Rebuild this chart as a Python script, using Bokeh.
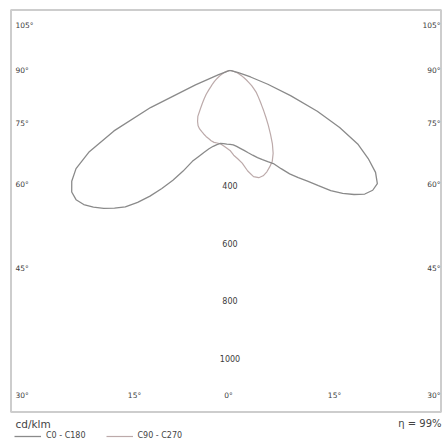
import numpy as np
from bokeh.plotting import figure
from bokeh.models import Range1d, Legend, LegendItem
from bokeh.core.properties import value
from bokeh.embed import file_html
from bokeh.resources import INLINE

# ---------------- data (cd/klm, angle from nadir in degrees) ----------------
angles = [0, 2.5, 5, 7.5, 10, 12.5, 15, 17.5, 20, 22.5, 25, 27.5, 30, 32.5, 35,
          37.5, 40, 42.5, 45, 47.5, 50, 52.5, 55, 57.5, 60, 62.5, 65, 67.5, 70,
          72.5, 75, 77.5, 80, 82.5, 85, 87.5, 90]
c0 = [257, 259, 265, 273, 282, 293, 305, 318, 330, 343, 357, 385, 415, 442, 470,
      505, 545, 580, 610, 636, 648, 646, 618, 570, 515, 430, 335, 228, 140,
      75, 30, 10, 4, 1, 0, 0, 0]
c180 = [257, 256, 255, 256, 262, 270, 282, 298, 318, 342, 386, 430, 474, 518, 560,
        598, 625, 650, 672, 690, 699, 694, 672, 635, 565, 455, 305, 130, 42,
        15, 6, 3, 1, 0, 0, 0, 0]
c90 = [278, 295, 308, 325, 355, 378, 386, 384, 375, 362, 348, 325, 295, 262, 232,
       205, 182, 162, 146, 132, 120, 105, 92, 78, 66, 55, 46, 38, 31,
       24, 18, 13, 9, 5, 3, 1, 0]
c270 = [278, 270, 263, 257, 256, 256, 253, 248, 244, 239, 234, 229, 222, 210, 195,
        170, 150, 133, 117, 100, 86, 76, 66, 56, 47, 40, 33, 27, 21,
        16, 12, 9, 6, 4, 2, 1, 0]

side_labels = ["105°", "90°", "75°", "60°", "45°", "30°"]
bottom_labels = ["15°", "0°", "15°"]
radial_ticks = [400, 600, 800, 1000]
series_names = ["C0 - C180", "C90 - C270"]
unit_label = "cd/klm"
efficiency_label = "η = 99%"

# ---------------- layout ----------------
W, H = 443, 441
OX, OY = 229.5, 70.0          # pole position in figure pixels
S = 0.2875                    # pixels per cd/klm
FONT_NAME = "DejaVu Sans"
FONT = value(FONT_NAME)
TXT = "#3c3c3c"


def px(xp, yp):
    """figure pixel (from top-left) -> data coords"""
    return (xp - OX) / S, (OY - yp) / S


def curve(left, right):
    a_l = np.radians(angles[::-1])
    r_l = np.array(left[::-1], dtype=float)
    a_r = np.radians(angles[1:])
    r_r = np.array(right[1:], dtype=float)
    x = np.concatenate([-r_l * np.sin(a_l), r_r * np.sin(a_r)])
    y = np.concatenate([-r_l * np.cos(a_l), -r_r * np.cos(a_r)])
    return x, y


x0, y1 = px(0, 0)
x1, y0 = px(W, H)

p = figure(width=W, height=H, output_backend="svg", toolbar_location=None,
           x_range=Range1d(x0, x1), y_range=Range1d(y0, y1),
           x_axis_type=None, y_axis_type=None, min_border=0,
           outline_line_color=None, background_fill_color="white",
           border_fill_color="white")

# frame
fl, ft = px(10.5, 9.5)
fr, fb = px(440.5, 411.5)
p.quad(left=[fl], right=[fr], top=[ft], bottom=[fb], fill_color=None,
       line_color="#cdcdcd", line_width=2)

# curves
nx, ny = curve(c270, c90)
r_narrow = p.line(nx, ny, line_color="#bcaaaa", line_width=1.2)
wx, wy = curve(c180, c0)
r_wide = p.line(wx, wy, line_color="#8a8a8a", line_width=1.3)

# angle labels
side_y = [25, 70, 123, 184, 268, 395]
lx = [px(15, yy)[0] for yy in side_y]
ly = [px(15, yy)[1] for yy in side_y]
rx = [px(440, yy)[0] for yy in side_y]
p.text(lx, ly, text=side_labels, text_font=FONT, text_font_size="7.5px",
       text_color=TXT, text_align="left", text_baseline="middle")
p.text(rx, ly, text=side_labels, text_font=FONT, text_font_size="7.5px",
       text_color=TXT, text_align="right", text_baseline="middle")
bx = [px(xx, 395)[0] for xx in (134, 228, 334)]
by = [px(0, 395)[1]] * 3
p.text(bx, by, text=bottom_labels, text_font=FONT, text_font_size="7.5px",
       text_color=TXT, text_align="center", text_baseline="middle")

# radial intensity labels
p.text([0] * len(radial_ticks), [-r for r in radial_ticks],
       text=[str(r) for r in radial_ticks], text_font=FONT,
       text_font_size="8px", text_color=TXT, text_align="center",
       text_baseline="middle")

# unit and efficiency
ux, uy = px(15, 423)
p.text([ux], [uy], text=[unit_label], text_font=FONT, text_font_size="10.5px",
       text_color="#444444", text_align="left", text_baseline="middle")
ex, ey = px(441, 423)
p.text([ex], [ey], text=[efficiency_label], text_font=FONT,
       text_font_size="10px", text_color="#444444", text_align="right",
       text_baseline="middle")

legend = Legend(items=[LegendItem(label=series_names[0], renderers=[r_wide]),
                       LegendItem(label=series_names[1], renderers=[r_narrow])],
                location=(14, 1), orientation="horizontal", padding=0, margin=0,
                spacing=20, glyph_width=27, glyph_height=8, label_standoff=5,
                label_height=8, label_text_font=FONT_NAME,
                label_text_font_size="8px", label_text_color="#444444",
                border_line_color=None, background_fill_alpha=0)
p.add_layout(legend)

open("out.html", "w").write(file_html(p, INLINE))
